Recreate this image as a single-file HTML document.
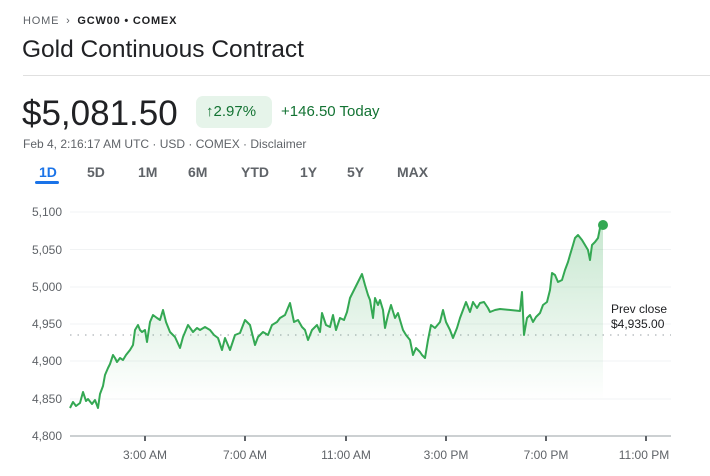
<!DOCTYPE html><html><head><meta charset="utf-8"><style>
body{margin:0;width:710px;height:476px;background:#fff;font-family:"Liberation Sans",sans-serif;position:relative;overflow:hidden}
.a{position:absolute;white-space:nowrap}
</style></head><body>
<div class="a" style="left:23px;top:15px;font-size:11px;letter-spacing:0.8px;color:#5f6368">HOME <span style="margin:0 3px">&#8250;</span> <b style="color:#202124;font-weight:bold">GCW00 • COMEX</b></div>
<div class="a" style="left:22px;top:36px;font-size:24.5px;color:#202124">Gold Continuous Contract</div>
<div class="a" style="left:23px;top:75px;width:687px;height:1px;background:#e0e0e0"></div>
<div class="a" style="left:22px;top:94px;font-size:35px;color:#202124">$5,081.50</div>
<div class="a" style="left:196px;top:96px;width:76px;height:32px;border-radius:7px;background:#e6f4ea"></div>
<div class="a" style="left:206px;top:103px;font-size:15px;color:#137333">&#8593;2.97%</div>
<div class="a" style="left:281px;top:103px;font-size:15px;color:#137333">+146.50 Today</div>
<div class="a" style="left:23px;top:137px;font-size:12px;color:#5f6368">Feb 4, 2:16:17 AM UTC · USD · COMEX · Disclaimer</div>
<div class="a" style="left:39px;top:164px;font-size:14px;color:#1a73e8;font-weight:bold">1D</div>
<div class="a" style="left:35px;top:181px;width:24px;height:3px;background:#1a73e8;border-radius:2px"></div>
<div class="a" style="left:87px;top:164px;font-size:14px;color:#5f6368;font-weight:bold">5D</div>
<div class="a" style="left:138px;top:164px;font-size:14px;color:#5f6368;font-weight:bold">1M</div>
<div class="a" style="left:188px;top:164px;font-size:14px;color:#5f6368;font-weight:bold">6M</div>
<div class="a" style="left:241px;top:164px;font-size:14px;color:#5f6368;font-weight:bold">YTD</div>
<div class="a" style="left:300px;top:164px;font-size:14px;color:#5f6368;font-weight:bold">1Y</div>
<div class="a" style="left:347px;top:164px;font-size:14px;color:#5f6368;font-weight:bold">5Y</div>
<div class="a" style="left:397px;top:164px;font-size:14px;color:#5f6368;font-weight:bold">MAX</div>
<svg class="a" style="left:0;top:0" width="710" height="476">
<defs><linearGradient id="g" gradientUnits="userSpaceOnUse" x1="0" y1="220" x2="0" y2="400"><stop offset="0" stop-color="#34a853" stop-opacity="0.28"/><stop offset="1" stop-color="#34a853" stop-opacity="0"/></linearGradient></defs>
<g stroke="#f1f3f4" stroke-width="1">
<line x1="70" x2="671" y1="212" y2="212"/><line x1="70" x2="671" y1="249.5" y2="249.5"/><line x1="70" x2="671" y1="287" y2="287"/><line x1="70" x2="671" y1="324" y2="324"/><line x1="70" x2="671" y1="361" y2="361"/><line x1="70" x2="671" y1="399" y2="399"/></g>
<line x1="70" x2="671" y1="436" y2="436" stroke="#9aa0a6"/>
<g stroke="#5f6368" stroke-width="2"><line x1="145" x2="145" y1="436" y2="441"/><line x1="245" x2="245" y1="436" y2="441"/><line x1="346" x2="346" y1="436" y2="441"/><line x1="446" x2="446" y1="436" y2="441"/><line x1="546" x2="546" y1="436" y2="441"/><line x1="646" x2="646" y1="436" y2="441"/></g>
<line x1="70" x2="671" y1="335" y2="335" stroke="#9aa0a6" stroke-dasharray="1.5 6"/>
<g font-size="12" fill="#5f6368" text-anchor="end"><text x="62" y="216">5,100</text><text x="62" y="254">5,050</text><text x="62" y="291">5,000</text><text x="62" y="328">4,950</text><text x="62" y="365">4,900</text><text x="62" y="403">4,850</text><text x="62" y="440">4,800</text></g>
<g font-size="12" fill="#5f6368" text-anchor="middle"><text x="145" y="459">3:00 AM</text><text x="245" y="459">7:00 AM</text><text x="346" y="459">11:00 AM</text><text x="446" y="459">3:00 PM</text><text x="546" y="459">7:00 PM</text><text x="644" y="459">11:00 PM</text></g>
<text x="611" y="313" font-size="12" fill="#202124">Prev close</text><text x="611" y="328" font-size="12" fill="#202124">$4,935.00</text>
<path d="M70,408 L73,402 L76,406 L80,403 L83,392 L86,401 L88,399 L92,404 L95,400 L98,408 L100,394 L103,386 L105,375 L108,368 L110,364 L113,355 L115,358 L117,362 L120,358 L123,360 L126,355 L130,350 L133,345 L135,330 L138,325 L140,330 L142,332 L145,330 L147,342 L150,322 L153,315 L157,318 L160,320 L163,310 L166,322 L170,332 L175,337 L180,348 L183,337 L188,325 L193,332 L197,328 L200,330 L205,327 L210,330 L214,335 L218,338 L222,350 L225,338 L230,350 L235,335 L240,333 L245,320 L250,325 L255,345 L258,337 L263,332 L268,335 L272,325 L277,322 L280,318 L285,315 L290,303 L294,322 L298,320 L302,327 L305,330 L308,340 L312,330 L317,325 L320,332 L322,313 L326,325 L330,327 L333,315 L336,330 L340,318 L344,320 L347,312 L350,298 L353,292 L357,284 L362,274 L365,285 L368,295 L370,300 L373,318 L375,298 L378,305 L380,300 L383,310 L385,328 L388,315 L391,305 L395,318 L398,313 L400,320 L403,330 L406,335 L410,340 L413,355 L416,348 L420,352 L422,355 L425,358 L428,340 L431,325 L435,328 L440,322 L443,310 L446,322 L450,330 L453,338 L457,328 L460,318 L463,310 L466,302 L470,312 L473,302 L477,308 L480,303 L484,302 L488,308 L490,312 L495,310 L500,309 L520,311 L522,292 L524,335 L527,318 L530,315 L533,322 L536,317 L540,313 L543,305 L547,302 L550,290 L552,273 L555,275 L558,282 L562,280 L565,270 L568,262 L570,255 L573,245 L575,238 L578,235 L582,240 L585,245 L588,250 L590,260 L592,245 L595,242 L598,238 L600,228 L603,225 L603,400 L70,400 Z" fill="url(#g)" stroke="none"/>
<path d="M70,408 L73,402 L76,406 L80,403 L83,392 L86,401 L88,399 L92,404 L95,400 L98,408 L100,394 L103,386 L105,375 L108,368 L110,364 L113,355 L115,358 L117,362 L120,358 L123,360 L126,355 L130,350 L133,345 L135,330 L138,325 L140,330 L142,332 L145,330 L147,342 L150,322 L153,315 L157,318 L160,320 L163,310 L166,322 L170,332 L175,337 L180,348 L183,337 L188,325 L193,332 L197,328 L200,330 L205,327 L210,330 L214,335 L218,338 L222,350 L225,338 L230,350 L235,335 L240,333 L245,320 L250,325 L255,345 L258,337 L263,332 L268,335 L272,325 L277,322 L280,318 L285,315 L290,303 L294,322 L298,320 L302,327 L305,330 L308,340 L312,330 L317,325 L320,332 L322,313 L326,325 L330,327 L333,315 L336,330 L340,318 L344,320 L347,312 L350,298 L353,292 L357,284 L362,274 L365,285 L368,295 L370,300 L373,318 L375,298 L378,305 L380,300 L383,310 L385,328 L388,315 L391,305 L395,318 L398,313 L400,320 L403,330 L406,335 L410,340 L413,355 L416,348 L420,352 L422,355 L425,358 L428,340 L431,325 L435,328 L440,322 L443,310 L446,322 L450,330 L453,338 L457,328 L460,318 L463,310 L466,302 L470,312 L473,302 L477,308 L480,303 L484,302 L488,308 L490,312 L495,310 L500,309 L520,311 L522,292 L524,335 L527,318 L530,315 L533,322 L536,317 L540,313 L543,305 L547,302 L550,290 L552,273 L555,275 L558,282 L562,280 L565,270 L568,262 L570,255 L573,245 L575,238 L578,235 L582,240 L585,245 L588,250 L590,260 L592,245 L595,242 L598,238 L600,228 L603,225" fill="none" stroke="#34a853" stroke-width="2" stroke-linejoin="round"/>
<circle cx="603" cy="225" r="5" fill="#34a853"/>
</svg>
</body></html>
